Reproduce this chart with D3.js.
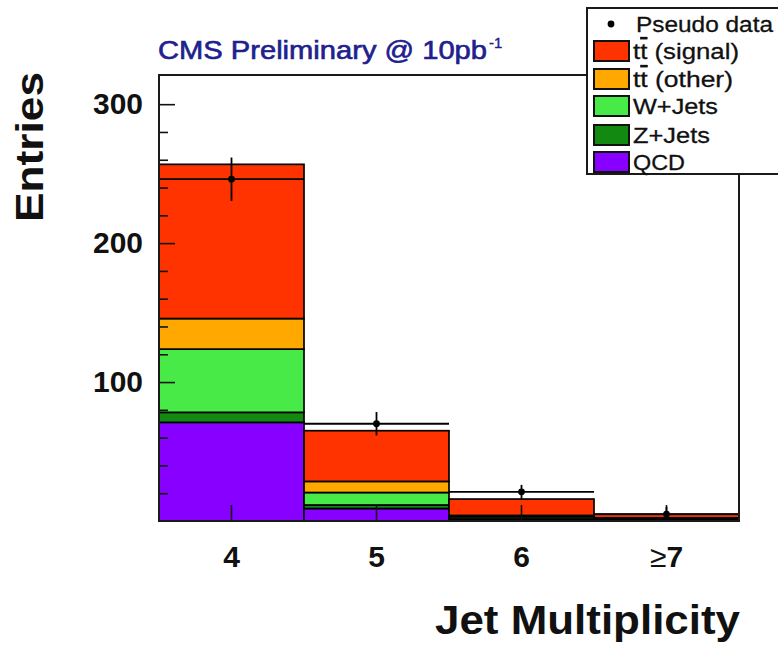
<!DOCTYPE html>
<html>
<head>
<meta charset="utf-8">
<script src="https://cdn.jsdelivr.net/npm/d3@7"></script>
<style>
  html, body { margin: 0; padding: 0; background: #fff; }
  svg { display: block; font-family: "Liberation Sans", Arial, Helvetica, sans-serif; }
</style>
</head>
<body>
<svg id="chart" width="778" height="647"></svg>
<script>
// Jet multiplicity bins
const categories = ["4", "5", "6", "\u22657"];

// Stacked Monte Carlo contributions per bin (entries)
const qcd      = [71, 9, 1.0, 0.3];
const zJets    = [7.2, 2.5, 0.5, 0.2];
const wJets    = [45.5, 9, 1.5, 1.0];
const ttOther  = [22, 8, 1.0, 0.8];
const ttSignal = [111, 36.5, 11.8, 2.5];

// Pseudo data with its uncertainty
const pseudoData = [246, 70, 21, 5];
const pseudoErr  = [15.6, 8.4, 5.0, 5.0];

// Axis ticks
const yMajorTicks = [100, 200, 300];
const yMinorTicks = [20, 40, 60, 80, 120, 140, 160, 180, 220, 240, 260, 280];

const seriesKeys   = ["qcd", "zJets", "wJets", "ttOther", "ttSignal"];
const seriesColors = ["#8800ff", "#128a12", "#48ea48", "#ffa800", "#ff3300"];

const legendItems = [
  { key: "ttSignal", parts: ["t", "t", " (signal)"], len: 106 },
  { key: "ttOther",  parts: ["t", "t", " (other)"],  len: 100 },
  { key: "wJets",    parts: ["W+Jets"], len: 85 },
  { key: "zJets",    parts: ["Z+Jets"], len: 77 },
  { key: "qcd",      parts: ["QCD"],    len: 52 }
];

const svg = d3.select("#chart");
const plotLeft = 159, plotRight = 739, plotTop = 75, plotBottom = 521;

const x = d3.scaleBand().domain(categories).range([plotLeft, plotRight]).padding(0);
const y = d3.scaleLinear().domain([0, 321]).range([plotBottom, plotTop]);
const color = d3.scaleOrdinal().domain(seriesKeys).range(seriesColors);

const table = categories.map((c, i) => ({
  cat: c, qcd: qcd[i], zJets: zJets[i], wJets: wJets[i],
  ttOther: ttOther[i], ttSignal: ttSignal[i]
}));
const stacked = d3.stack().keys(seriesKeys)(table);

// Stacked histogram bars
svg.append("g").selectAll("g")
  .data(stacked).join("g")
  .attr("fill", d => color(d.key))
  .selectAll("rect")
  .data(d => d).join("rect")
  .attr("x", d => x(d.data.cat))
  .attr("width", x.bandwidth())
  .attr("y", d => y(d[1]))
  .attr("height", d => y(d[0]) - y(d[1]))
  .attr("stroke", "#000")
  .attr("stroke-width", 1.7);

// Y axis: ticks point into the frame
const yAxis = svg.append("g").attr("transform", `translate(${plotLeft},0)`)
  .call(d3.axisLeft(y).tickValues(yMajorTicks).tickSize(-16).tickPadding(16));
svg.append("g").attr("transform", `translate(${plotLeft},0)`)
  .call(d3.axisLeft(y).tickValues(yMinorTicks).tickSize(-9).tickFormat(""))
  .call(g => g.select(".domain").remove())
  .selectAll("line").attr("stroke", "#111").attr("stroke-width", 1.6);
yAxis.select(".domain").remove();
yAxis.selectAll("line").attr("stroke", "#111").attr("stroke-width", 1.6);
yAxis.selectAll("text")
  .attr("fill", "#111")
  .style("font-size", "29px")
  .style("font-weight", "bold")
  .style("font-family", "'Liberation Sans', Arial, sans-serif")
  .attr("textLength", 50).attr("lengthAdjust", "spacingAndGlyphs");

// X axis: ticks at bin centres pointing upward
const xAxis = svg.append("g").attr("transform", `translate(0,${plotBottom})`)
  .call(d3.axisBottom(x).tickSize(-16).tickPadding(25));
xAxis.select(".domain").remove();
xAxis.selectAll("line").attr("stroke", "#111").attr("stroke-width", 1.6);
xAxis.selectAll("text")
  .attr("fill", "#111")
  .style("font-size", "30px")
  .style("font-weight", "bold")
  .style("font-family", "'Liberation Sans', Arial, sans-serif")
  .each(function(d) {
    if (d.startsWith("\u2265")) {
      const t = d3.select(this).text("");
      t.append("tspan").style("font-weight", "normal").text("\u2265");
      t.append("tspan").text(d.slice(1));
    }
  });

// Pseudo data: bin-wide line, vertical error bar and marker
const cx = c => x(c) + x.bandwidth() / 2;
const dataG = svg.append("g").attr("stroke", "#000").attr("stroke-width", 1.8);
categories.forEach((c, i) => {
  dataG.append("line")
    .attr("x1", x(c)).attr("x2", x(c) + x.bandwidth())
    .attr("y1", y(pseudoData[i])).attr("y2", y(pseudoData[i]));
  dataG.append("line")
    .attr("x1", cx(c)).attr("x2", cx(c))
    .attr("y1", y(pseudoData[i] + pseudoErr[i]))
    .attr("y2", y(Math.max(0, pseudoData[i] - pseudoErr[i])));
  dataG.append("circle")
    .attr("cx", cx(c)).attr("cy", y(pseudoData[i])).attr("r", 3.4)
    .attr("fill", "#000").attr("stroke", "none");
});

// Frame
svg.append("rect")
  .attr("x", plotLeft).attr("y", plotTop)
  .attr("width", plotRight - plotLeft).attr("height", plotBottom - plotTop)
  .attr("fill", "none").attr("stroke", "#1a1a1a").attr("stroke-width", 2);

// Title
svg.append("text")
  .attr("x", 158).attr("y", 59)
  .attr("fill", "#20208e").attr("stroke", "#20208e").attr("stroke-width", 0.6)
  .style("font-size", "25px")
  .attr("textLength", 329).attr("lengthAdjust", "spacingAndGlyphs")
  .text("CMS Preliminary @ 10pb");
svg.append("text")
  .attr("x", 489).attr("y", 48)
  .attr("fill", "#20208e").attr("stroke", "#20208e").attr("stroke-width", 0.4)
  .style("font-size", "15px")
  .text("-1");

// Axis titles
svg.append("text")
  .attr("transform", "translate(43,147) rotate(-90)")
  .attr("text-anchor", "middle")
  .style("font-size", "39px").style("font-weight", "bold")
  .attr("fill", "#111")
  .attr("textLength", 150).attr("lengthAdjust", "spacingAndGlyphs")
  .text("Entries");
svg.append("text")
  .attr("x", 740).attr("y", 634)
  .attr("text-anchor", "end")
  .style("font-size", "40px").style("font-weight", "bold")
  .attr("fill", "#111")
  .attr("textLength", 305).attr("lengthAdjust", "spacingAndGlyphs")
  .text("Jet Multiplicity");

// Legend
const lg = svg.append("g");
lg.append("rect")
  .attr("x", 587).attr("y", 8).attr("width", 220).attr("height", 166)
  .attr("fill", "#fff").attr("stroke", "#1a1a1a").attr("stroke-width", 2);
const rowY = [24, 51, 79, 106, 135, 162];
lg.append("circle").attr("cx", 611).attr("cy", rowY[0]).attr("r", 3.4).attr("fill", "#000");
lg.append("text")
  .attr("x", 636).attr("y", rowY[0] + 8)
  .style("font-size", "22px").attr("fill", "#111")
  .attr("stroke", "#111").attr("stroke-width", 0.3)
  .attr("textLength", 137).attr("lengthAdjust", "spacingAndGlyphs")
  .text("Pseudo data");
legendItems.forEach((it, i) => {
  const cy = rowY[i + 1];
  lg.append("rect")
    .attr("x", 594).attr("y", cy - 10).attr("width", 35).attr("height", 20)
    .attr("fill", color(it.key)).attr("stroke", "#111").attr("stroke-width", 2);
  const t = lg.append("text")
    .attr("x", 633).attr("y", cy + 8)
    .style("font-size", "22px").attr("fill", "#111")
    .attr("stroke", "#111").attr("stroke-width", 0.3)
    .attr("textLength", it.len).attr("lengthAdjust", "spacingAndGlyphs");
  it.parts.forEach((p, j) => {
    const s = t.append("tspan").text(p);
    if (it.parts.length === 3 && j === 1) s.style("text-decoration", "overline");
  });
});
</script>
</body>
</html>
